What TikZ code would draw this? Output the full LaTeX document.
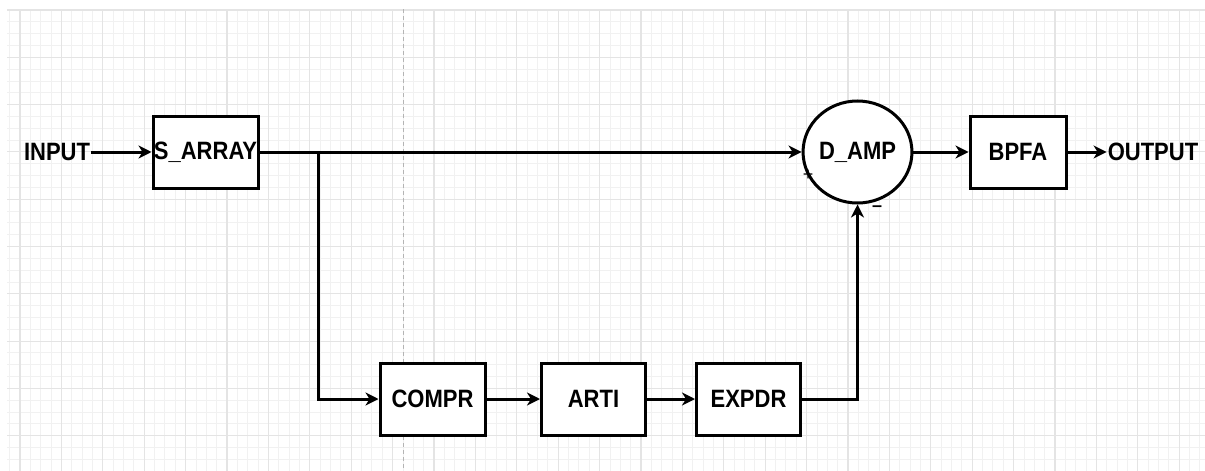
\documentclass[tikz,border=0pt]{standalone}
\usepackage{fontspec}
\usepackage{graphicx}
\setmainfont{Liberation Sans}
\usetikzlibrary{arrows.meta,shapes.geometric}

\definecolor{gridminor}{HTML}{F1F1F1}
\definecolor{gridmajor}{HTML}{E4E4E4}
\definecolor{pageline}{HTML}{B4B4B4}

% block labels: bold sans, slightly taller than wide
\newcommand{\blk}[1]{\scalebox{1}[1.14]{\bfseries #1}}

\tikzset{
  blockbox/.style={draw=black, line width=3pt, fill=white, rectangle,
    inner sep=0pt, minimum height=72pt, font=\fontsize{22}{24}\selectfont},
  sumnode/.style={draw=black, line width=3pt, fill=white, ellipse,
    inner sep=0pt, minimum width=85pt, minimum height=102pt,
    font=\fontsize{22}{24}\selectfont},
  io/.style={inner sep=1pt, font=\fontsize{22}{24}\selectfont},
  sign/.style={inner sep=0pt, text=black, font=\fontsize{18}{20}\selectfont},
  wire/.style={line width=3pt, line join=miter,
    -{Stealth[length=13pt, width=13pt, inset=4pt]}},
  minorline/.style={draw=gridminor, line width=0.9pt},
  majorline/.style={draw=gridmajor, line width=1.1pt},
}

\begin{document}
\begin{tikzpicture}[x=1pt, y=-1pt]
  \useasboundingbox (0,0) rectangle (1205,471);
  \fill[white] (0,0) rectangle (1205,471);

  % background grid
  \foreach \i in {0,...,115} {
    \pgfmathsetmacro\gx{9.65+10.35*\i}
    \draw[minorline] (\gx,9) -- (\gx,471);
  }
  \foreach \j in {0,...,39} {
    \pgfmathsetmacro\gy{10+11.825*\j}
    \draw[minorline] (7,\gy) -- (1205,\gy);
  }
  \foreach \i in {0,...,28} {
    \pgfmathsetmacro\gx{20+41.4*\i}
    \draw[majorline] (\gx,9) -- (\gx,471);
  }
  \foreach \j in {0,...,9} {
    \pgfmathsetmacro\gy{10+47.3*\j}
    \draw[majorline] (7,\gy) -- (1205,\gy);
  }
  % page break marker
  \draw[pageline, line width=1pt, dash pattern=on 4pt off 3pt] (403.5,9) -- (403.5,471);

  % blocks
  \node[io] (in) at (57,152) {\blk{INPUT}};
  \node[blockbox, minimum width=105pt] (sarr) at (205.5,152) {\blk{S\_ARRAY}};
  \node[sumnode] (damp) at (857.5,152) {\blk{D\_AMP}};
  \node[blockbox, minimum width=96pt] (bpfa) at (1018,152) {\blk{BPFA}};
  \node[io] (out) at (1153,152) {\blk{OUTPUT}};

  \node[blockbox, minimum width=105pt] (compr) at (432.5,399) {\blk{COMPR}};
  \node[blockbox, minimum width=104pt] (arti) at (593.5,399) {\blk{ARTI}};
  \node[blockbox, minimum width=104pt] (expdr) at (748.5,399) {\blk{EXPDR}};

  % sign labels at the summing point
  \node[sign] (plus) at (808,175) {+};
  \node[sign] (minus) at (877,209) {\bfseries –};

  % connectors
  \coordinate (split) at (318.5,152);
  \draw[wire] (in.east) -- (sarr.west);
  \draw[wire] (sarr.east) -- (damp.west);
  \draw[wire] (split) |- (compr.west);
  \draw[wire] (compr.east) -- (arti.west);
  \draw[wire] (arti.east) -- (expdr.west);
  \draw[wire] (expdr.east) -| (damp.south);
  \draw[wire] (damp.east) -- (bpfa.west);
  \draw[wire] (bpfa.east) -- (out.west);
\end{tikzpicture}
\end{document}
